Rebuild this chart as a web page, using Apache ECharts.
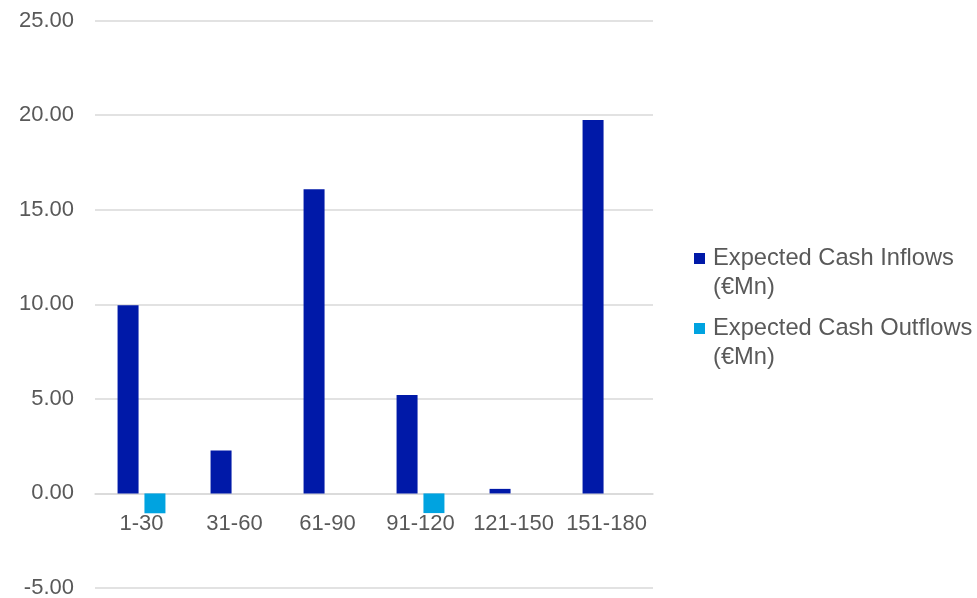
<!DOCTYPE html>
<html>
<head>
<meta charset="utf-8">
<script src="https://cdn.jsdelivr.net/npm/echarts@6/dist/echarts.min.js"></script>
<style>
  html, body { margin: 0; padding: 0; background: #ffffff; }
  #chart { width: 977px; height: 598px; }
</style>
</head>
<body>
<div id="chart"></div>
<script>
// Maturity buckets (days)
const categories = ['1-30', '31-60', '61-90', '91-120', '121-150', '151-180'];
// Expected cash flows per bucket, € millions
const inflows = [9.95, 2.27, 16.08, 5.2, 0.24, 19.74];
const outflows = [-1.05, 0, 0, -1.04, 0, 0];
// Value axis ticks
const yTicks = [-5, 0, 5, 10, 15, 20, 25];

const seriesNames = ['Expected Cash Inflows\n(€Mn)', 'Expected Cash Outflows\n(€Mn)'];
const colors = ['#0019A8', '#00A3E0'];
const textColor = '#595959';
const fontFamily = 'Liberation Sans, Arial, sans-serif';

const W = 977, H = 598;
const gridBox = { left: 95, right: 324, top: 20.5, bottom: 10 };
const yMin = yTicks[0], yMax = yTicks[yTicks.length - 1];
// Lift the category axis (line + labels) from the plot bottom up to the zero value.
const plotHeight = H - gridBox.top - gridBox.bottom;
const zeroLift = -plotHeight * (0 - yMin) / (yMax - yMin);

// Square marker sitting at the top of a taller box, so it lines up with
// the first line of the two-line legend labels.
const topSquare = 'path://M0,0L11,0L11,11L0,11Z M14,40L14,40.01';

const chart = echarts.init(document.getElementById('chart'), null, { renderer: 'canvas' });
chart.setOption({
  animation: false,
  color: colors,
  textStyle: { fontFamily: fontFamily },
  legend: {
    data: seriesNames,
    left: 689,
    top: 239,
    orient: 'vertical',
    icon: topSquare,
    itemWidth: 14,
    itemHeight: 40,
    itemGap: 12,
    selectedMode: false,
    textStyle: {
      color: textColor,
      fontSize: 23.7,
      fontFamily: fontFamily,
      lineHeight: 29
    }
  },
  grid: Object.assign({ containLabel: false, outerBoundsMode: 'none' }, gridBox),
  xAxis: {
    type: 'category',
    data: categories,
    offset: zeroLift,
    axisLine: { onZero: false, lineStyle: { color: '#d9d9d9', width: 1.5 } },
    axisTick: { show: false },
    axisLabel: { color: textColor, fontSize: 22, margin: 20, interval: 0 }
  },
  yAxis: {
    type: 'value',
    min: yMin,
    max: yMax,
    interval: yTicks[1] - yTicks[0],
    axisLine: { show: false },
    axisTick: { show: false },
    splitLine: { lineStyle: { color: '#d9d9d9', width: 1.5 } },
    axisLabel: {
      color: textColor,
      fontSize: 22,
      margin: 21,
      formatter: v => v.toFixed(2)
    }
  },
  series: [
    {
      name: seriesNames[0],
      type: 'bar',
      data: inflows,
      barWidth: 21,
      barGap: '28%',
      itemStyle: { color: colors[0] }
    },
    {
      name: seriesNames[1],
      type: 'bar',
      data: outflows,
      barWidth: 21,
      barGap: '28%',
      itemStyle: { color: colors[1] }
    }
  ]
});
</script>
</body>
</html>
